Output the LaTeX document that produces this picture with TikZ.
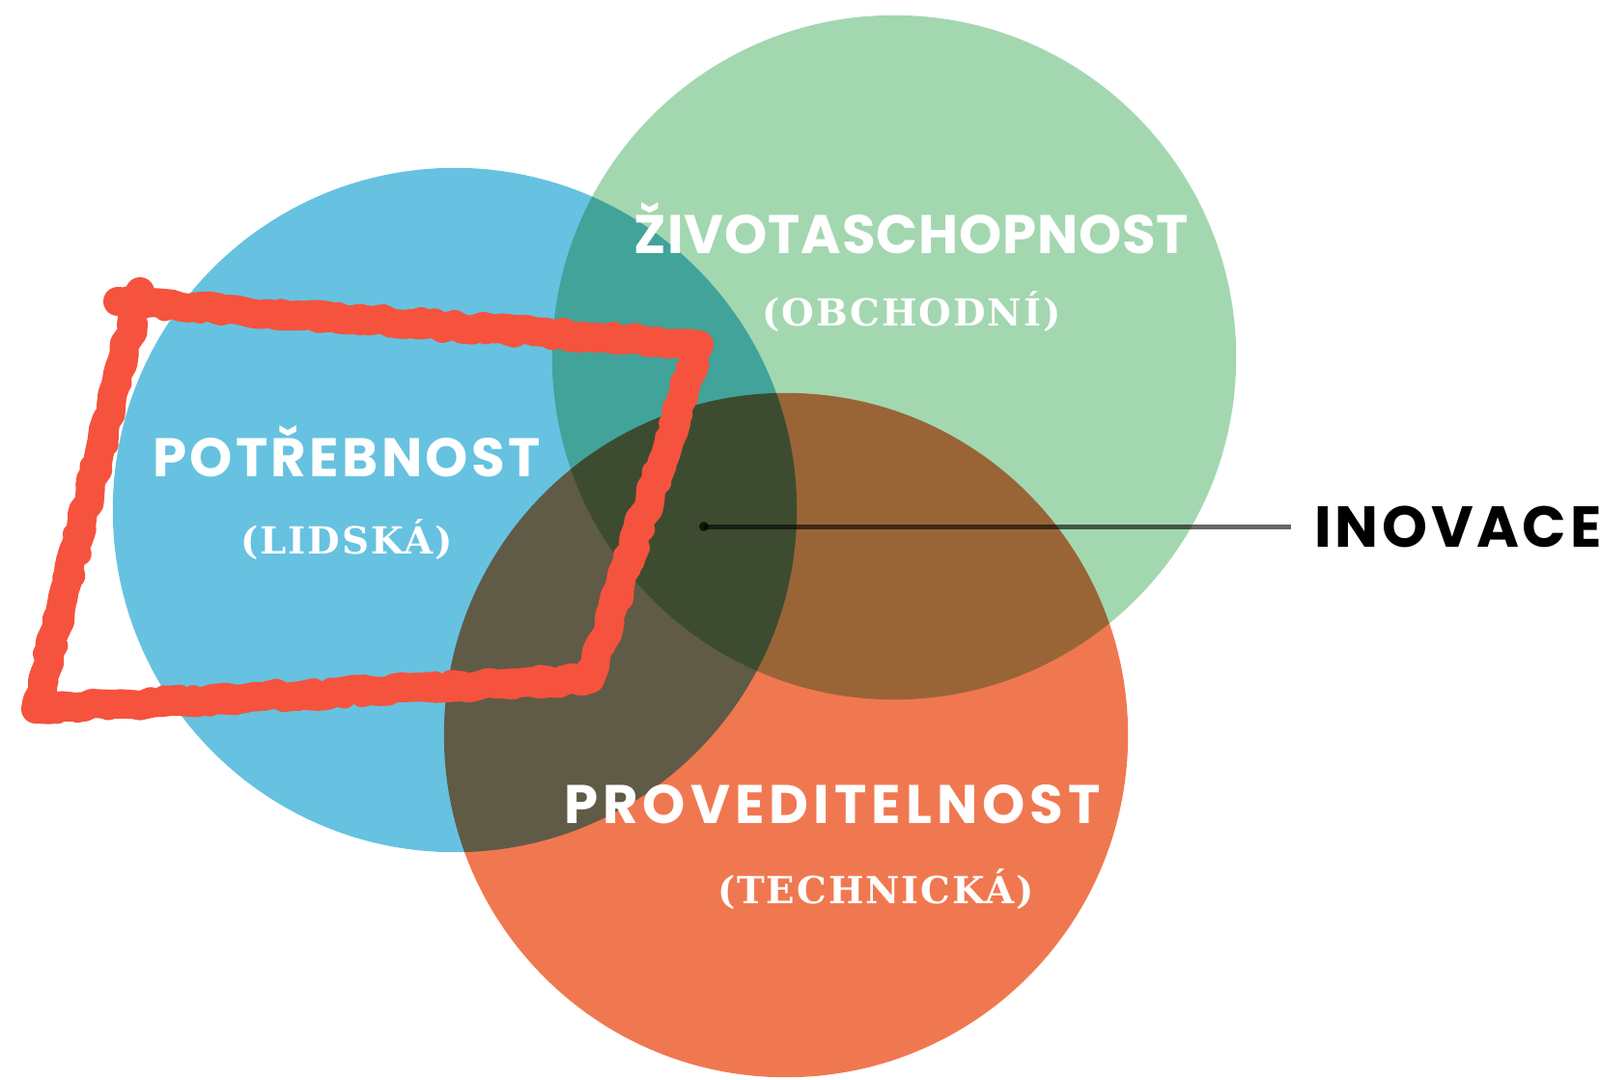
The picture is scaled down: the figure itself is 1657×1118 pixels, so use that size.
\documentclass[tikz,border=0pt]{standalone}
\usepackage{fontspec}
\usetikzlibrary{positioning}
\usetikzlibrary{decorations.pathmorphing}
\newfontfamily\headfont{Poppins}
\newfontfamily\subfont{DejaVu Serif}
\definecolor{needblue}{HTML}{66C2E0}
\definecolor{bizgreen}{HTML}{A3D7B0}
\definecolor{techorange}{HTML}{F07850}
\definecolor{chalkred}{HTML}{F5533D}

\begin{document}
\begin{tikzpicture}[x=0.01cm,y=-0.01cm,
			set/.style={circle,minimum size=7.08cm,inner sep=0pt},
			title/.style={text=white,anchor=base,inner sep=0pt,font=\headfont\bfseries\fontsize{16}{16}\selectfont},
			sub/.style={text=white,anchor=base,inner sep=0pt,font=\subfont\bfseries\fontsize{11}{11}\selectfont},
			chalk/.style={draw=chalkred,line width=0.3cm,line join=round,line cap=round,
				decorate,decoration={random steps,segment length=3pt,amplitude=0.8pt}},
			pointer/.style={draw=black,opacity=0.6,line width=0.05cm}]
			\fill[white] (0,0) rectangle (1657,1118);
			\useasboundingbox (0,0) rectangle (1657,1118);
			
			% the three sets
			\begin{scope}[blend group=multiply]
			\node[set,fill=needblue]    (lidska)    at (471,528) {};
			\node[set,fill=bizgreen]    (obchodni)  at (926,370) {};
			\node[set,fill=techorange]  (technicka) at (814,761) {};
			\end{scope}
			
			\node[title] (zivot)      at (944,262) {\addfontfeatures{LetterSpace=1.5}ŽIVOTASCHOPNOST};
			\node[sub]   (zivotsub)   at (944,337) {\addfontfeatures{LetterSpace=5}(OBCHODNÍ)};
			\node[title] (potreba)    at (359,493) {\addfontfeatures{LetterSpace=6}POTŘEBNOST};
			\node[sub]   (potrebasub) at (359,573) {\addfontfeatures{LetterSpace=5}(LIDSKÁ)};
			\node[title] (proved)     at (862,852) {\addfontfeatures{LetterSpace=9}PROVEDITELNOST};
			\node[sub]   (provedsub)  at (907,935) {\addfontfeatures{LetterSpace=5}(TECHNICKÁ)};
			
			% the innovation pointer
			\coordinate (hub)     at (729,545);
			\coordinate (lineend) at (1337,545);
			\node[inner sep=0pt,anchor=west,font=\headfont\bfseries\fontsize{17}{17}\selectfont,
				right=0.24cm of lineend] (inovace) {\addfontfeatures{LetterSpace=6}INOVACE};
			\draw[pointer] (hub) -- (lineend);
			\fill[black,opacity=0.7] (hub) circle (5);
			
			% hand drawn frame
			\draw[chalk] (122,312) -- (724,357) -- (611,703) -- (37,734) -- (145,302);
			\draw[chalk,line width=0.24cm,decoration={random steps,segment length=2pt,amplitude=1.6pt}]
				(122,312) -- (724,357) -- (611,703) -- (37,734) -- (145,302);
			\end{tikzpicture}
\end{document}
